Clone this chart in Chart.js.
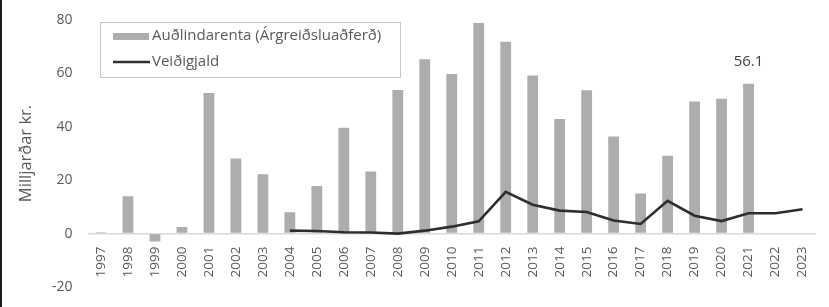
<!DOCTYPE html>
<html>
<head>
<meta charset="utf-8">
<script src="https://cdn.jsdelivr.net/npm/chart.js@4/dist/chart.umd.min.js"></script>
<style>
  html, body { margin: 0; padding: 0; background: #fff; }
  #wrap { width: 827px; height: 307px; border-left: 2px solid #1a1a1a; }
  canvas { display: block; }
</style>
</head>
<body>
<div id="wrap"><canvas id="c" width="827" height="307"></canvas></div>
<script>
const years = ['1997','1998','1999','2000','2001','2002','2003','2004','2005','2006','2007','2008','2009','2010','2011','2012','2013','2014','2015','2016','2017','2018','2019','2020','2021','2022','2023'];
const audlindarenta = [0.5, 14.0, -3.0, 2.5, 52.7, 28.1, 22.2, 8.0, 17.8, 39.6, 23.3, 53.8, 65.3, 59.8, 78.9, 71.9, 59.2, 42.9, 53.7, 36.4, 15.0, 29.2, 49.5, 50.5, 56.1, null, null];
const veidigjald = [null, null, null, null, null, null, null, 1.1, 1.0, 0.5, 0.4, 0.0, 1.1, 2.6, 4.6, 15.6, 10.8, 8.6, 8.1, 4.9, 3.6, 12.3, 6.7, 4.7, 7.6, 7.6, 9.1];
const seriesNames = ['Auðlindarenta (Árgreiðsluaðferð)', 'Veiðigjald'];
const yTicks = [-20, 0, 20, 40, 60, 80];
const yTitle = 'Milljarðar kr.';
const labelledIndex = 24; // 2021

const FONT = 'Open Sans';
const TXT = '#595959';

const boxLegend = {
  id: 'boxLegend',
  afterDraw(chart) {
    const ctx = chart.ctx;
    const x = 98, y = 22, w = 300, h = 55;
    ctx.save();
    ctx.strokeStyle = '#c6c6c6';
    ctx.lineWidth = 1;
    ctx.strokeRect(x + 0.5, y + 0.5, w, h);
    ctx.font = '15px "' + FONT + '"';
    ctx.textBaseline = 'middle';
    const ds = chart.data.datasets;
    ctx.fillStyle = ds[0].backgroundColor;
    ctx.fillRect(x + 13, y + 11, 36, 7);
    ctx.fillStyle = TXT;
    ctx.fillText(ds[0].label, x + 52, y + 14);
    ctx.strokeStyle = ds[1].borderColor;
    ctx.lineWidth = 2.5;
    ctx.beginPath();
    ctx.moveTo(x + 13, y + 40);
    ctx.lineTo(x + 50, y + 40);
    ctx.stroke();
    ctx.fillText(ds[1].label, x + 52, y + 40);
    ctx.restore();
  }
};

const valueLabel = {
  id: 'valueLabel',
  afterDatasetsDraw(chart) {
    const meta = chart.getDatasetMeta(0);
    const el = meta.data[labelledIndex];
    const v = chart.data.datasets[0].data[labelledIndex];
    const ctx = chart.ctx;
    ctx.save();
    ctx.font = '15px "' + FONT + '"';
    ctx.fillStyle = '#404040';
    ctx.textAlign = 'center';
    ctx.textBaseline = 'middle';
    ctx.fillText(v.toFixed(1), el.x, el.y - 22);
    ctx.restore();
  }
};

function draw() {
  new Chart(document.getElementById('c'), {
    data: {
      labels: years,
      datasets: [
        {
          type: 'bar',
          label: seriesNames[0],
          data: audlindarenta,
          backgroundColor: '#adadad',
          borderWidth: 0,
          barPercentage: 0.4,
          categoryPercentage: 1.0,
          order: 2
        },
        {
          type: 'line',
          label: seriesNames[1],
          data: veidigjald,
          borderColor: '#2e2e2e',
          borderWidth: 2.6,
          pointRadius: 0,
          tension: 0,
          fill: false,
          spanGaps: false,
          order: 1
        }
      ]
    },
    options: {
      responsive: false,
      animation: false,
      devicePixelRatio: 1,
      layout: { padding: { top: 20, bottom: 20, left: 0, right: 13 } },
      plugins: {
        legend: { display: false },
        tooltip: { enabled: false }
      },
      scales: {
        x: {
          position: { y: 0 },
          grid: { display: false, drawTicks: false },
          border: { display: false },
          ticks: {
            minRotation: 90,
            maxRotation: 90,
            autoSkip: false,
            padding: 13,
            color: TXT,
            font: { family: FONT, size: 13.5 }
          },
          afterFit(scale) { scale.height = 0; scale.paddingLeft = 0; scale.paddingRight = 0; scale.paddingTop = 0; scale.paddingBottom = 0; }
        },
        y: {
          min: yTicks[0],
          max: yTicks[yTicks.length - 1],
          afterBuildTicks(scale) { scale.ticks = yTicks.map(v => ({ value: v })); },
          grid: {
            drawTicks: false,
            color: ctx => (ctx.tick && ctx.tick.value === 0) ? '#d9d9d9' : 'rgba(0,0,0,0)',
            lineWidth: 1.5
          },
          border: { display: false },
          ticks: {
            padding: 15,
            color: TXT,
            font: { family: FONT, size: 14 }
          },
          title: {
            display: true,
            text: yTitle,
            color: TXT,
            font: { family: FONT, size: 16.5 },
            padding: { top: 14, bottom: 0 }
          },
          afterFit(scale) { scale.width = 85.5; scale.paddingTop = 0; scale.paddingBottom = 0; }
        }
      }
    },
    plugins: [boxLegend, valueLabel]
  });
}

if (document.fonts && document.fonts.load) {
  document.fonts.load('14px "Open Sans"').then(draw, draw);
} else {
  draw();
}
</script>
</body>
</html>
